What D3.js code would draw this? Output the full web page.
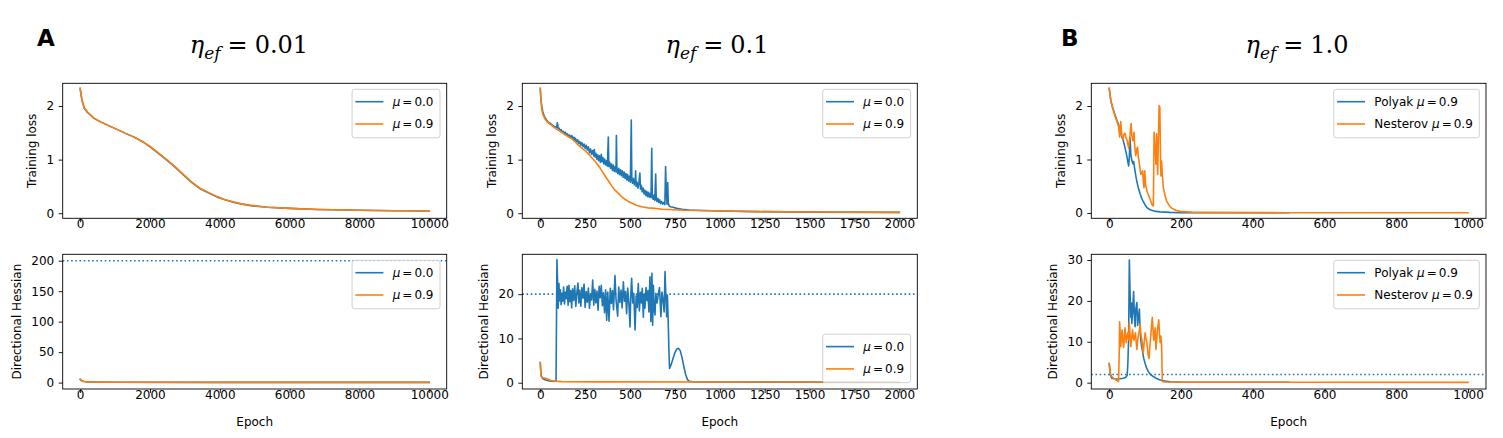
<!DOCTYPE html>
<html>
<head>
<meta charset="utf-8">
<script src="https://cdn.jsdelivr.net/npm/d3@7"></script>
<style>
  body { margin: 0; background: #fff; }
  svg { display: block; font-family: "DejaVu Sans", sans-serif; }
  text { fill: #000; }
</style>
</head>
<body>
<div id="chart"></div>
<script>
// ---------- data: [epoch, value] ----------

// panel A (eta = 0.01), training loss, both momenta almost on top of each other
const lossA_mu0 = [[0,2.33],[30,2.19],[67,2.07],[120,1.96],[210,1.88],[400,1.77],[600,1.70],[800,1.64],[1070,1.56],[1300,1.49],[1550,1.42],[1800,1.33],[2020,1.23],[2250,1.11],[2500,0.98],[2750,0.84],[2980,0.70],[3200,0.57],[3450,0.45],[3700,0.37],[3930,0.30],[4150,0.25],[4410,0.20],[4650,0.17],[4890,0.14],[5360,0.11],[6000,0.09],[6800,0.07],[8000,0.055],[9000,0.045],[10000,0.04]];
const lossA_mu9 = [[0,2.33],[30,2.20],[67,2.08],[120,1.97],[210,1.89],[400,1.77],[600,1.70],[800,1.64],[1070,1.56],[1300,1.49],[1550,1.42],[1800,1.33],[2020,1.24],[2250,1.12],[2500,0.99],[2750,0.85],[2980,0.71],[3200,0.58],[3450,0.46],[3700,0.38],[3930,0.31],[4150,0.25],[4410,0.21],[4650,0.17],[4890,0.15],[5360,0.11],[6000,0.09],[6800,0.07],[8000,0.055],[9000,0.045],[10000,0.04]];
const hessA_mu0 = [[0,5.3],[30,3.6],[67,2.6],[120,1.7],[200,1.2],[300,0.9],[500,0.7],[1000,0.5],[4000,0.4],[10000,0.3]];
const hessA_mu9 = [[0,5.5],[30,3.8],[67,2.7],[120,1.8],[200,1.2],[300,0.9],[500,0.7],[1000,0.5],[4000,0.4],[10000,0.3]];

// eta = 0.1, training loss
const lossB_mu0 = [[0,2.33],[4,2.12],[8,2.01],[14,1.90],[20,1.83],[26,1.79],[35,1.74],[45,1.70],[55,1.68],[63,1.66],[70,1.64],[78,1.62],[85,1.61],[91,1.60],[95,1.69],[97,1.66],[99,1.58],[104,1.59],[110,1.55],[116,1.56],[122,1.52],[128,1.53],[134,1.49],[140,1.51],[146,1.46],[152,1.48],[158,1.43],[164,1.46],[170,1.41],[176,1.45],[182,1.38],[188,1.42],[192,1.36],[196,1.40],[202,1.33],[208,1.37],[214,1.30],[220,1.34],[226,1.27],[232,1.32],[238,1.24],[244,1.29],[250,1.21],[256,1.27],[262,1.18],[268,1.24],[274,1.13],[280,1.20],[286,1.10],[292,1.17],[298,1.07],[301,1.19],[305,1.05],[310,1.12],[315,1.01],[320,1.09],[325,0.98],[330,1.07],[335,0.95],[340,1.10],[344,0.96],[349,1.04],[354,0.92],[359,1.01],[364,0.90],[369,0.98],[374,0.88],[379,1.42],[382,0.87],[387,0.95],[392,0.84],[397,0.92],[402,0.80],[407,0.90],[412,0.78],[418,0.87],[422,0.77],[424,1.45],[427,0.80],[432,0.74],[437,0.84],[442,0.72],[447,0.81],[452,0.70],[457,0.79],[462,0.67],[467,0.77],[472,0.65],[477,0.74],[482,0.62],[487,0.72],[492,0.60],[497,0.69],[502,0.58],[507,1.74],[510,0.62],[514,0.56],[519,0.65],[524,0.53],[529,0.60],[531,0.79],[534,0.50],[539,0.58],[544,0.47],[549,0.55],[555,0.75],[558,0.45],[563,0.52],[568,0.40],[573,0.47],[578,0.36],[583,0.43],[588,0.33],[593,0.41],[598,0.31],[603,0.39],[608,0.30],[613,0.37],[617,0.29],[621,1.21],[624,0.33],[629,0.26],[634,0.34],[638,0.24],[643,0.73],[646,0.27],[650,0.22],[655,0.28],[660,0.20],[665,0.25],[670,0.18],[676,0.22],[682,0.17],[688,0.20],[694,0.16],[698,0.87],[702,0.40],[706,0.17],[710,0.57],[713,0.20],[717,0.14],[725,0.12],[740,0.11],[760,0.09],[790,0.075],[830,0.06],[900,0.05],[1000,0.04],[1200,0.03],[1500,0.02],[2000,0.015]];
const lossB_mu9 = [[0,2.33],[4,2.10],[8,1.95],[15,1.84],[26,1.76],[40,1.70],[63,1.64],[90,1.57],[119,1.51],[150,1.44],[175,1.39],[195,1.33],[212,1.27],[230,1.22],[249,1.17],[268,1.11],[286,1.04],[305,0.97],[323,0.89],[342,0.80],[360,0.70],[380,0.60],[398,0.51],[416,0.43],[435,0.37],[453,0.31],[472,0.26],[490,0.22],[509,0.19],[535,0.15],[565,0.12],[600,0.10],[639,0.09],[680,0.075],[713,0.07],[800,0.055],[973,0.045],[1200,0.03],[1500,0.022],[2000,0.015]];

// eta = 0.1, directional hessian
const hessB_mu0 = [[0,4.5],[5,1.5],[15,0.9],[30,0.6],[50,0.4],[80,0.3],[88,0.5],[93,27.8],[97,22.0],[100,16.8],[104,22.4],[108,18.5],[112,21.0],[116,17.6],[120,20.2],[125,18.4],[130,21.6],[135,17.8],[140,20.5],[145,19.0],[150,21.8],[155,17.5],[160,22.0],[165,18.3],[170,20.8],[175,16.9],[180,21.2],[186,18.6],[192,21.9],[198,17.2],[204,20.4],[210,22.5],[215,18.0],[220,20.9],[226,17.3],[232,21.5],[238,19.1],[244,22.3],[250,17.0],[256,20.6],[262,18.2],[268,21.4],[274,16.8],[280,20.0],[286,18.7],[292,23.2],[298,17.5],[304,21.1],[310,18.0],[316,20.7],[322,16.4],[328,21.8],[334,19.2],[340,22.0],[346,17.4],[352,20.3],[358,15.8],[364,21.0],[370,14.1],[376,20.5],[383,13.9],[390,21.3],[396,17.9],[402,20.8],[408,16.5],[416,24.2],[422,18.8],[431,15.0],[437,21.6],[443,18.1],[450,20.9],[456,16.9],[463,22.8],[469,18.4],[475,20.6],[481,15.6],[487,21.4],[494,17.7],[500,12.6],[504,19.5],[509,23.6],[515,18.0],[521,20.2],[528,11.9],[534,19.6],[540,17.0],[546,22.4],[552,16.2],[558,20.4],[563,18.0],[568,21.3],[574,14.8],[578,20.0],[583,16.8],[589,21.5],[595,18.5],[600,20.8],[605,16.0],[611,23.9],[616,13.8],[622,24.7],[626,13.0],[630,22.0],[635,16.5],[639,15.3],[644,20.2],[650,18.0],[657,19.8],[664,21.5],[672,14.9],[678,20.5],[685,18.3],[690,16.0],[695,25.1],[700,19.0],[704,14.9],[708,19.8],[712,15.0],[716,8.0],[720,3.2],[730,4.2],[740,5.5],[750,6.8],[760,7.6],[770,7.75],[780,7.2],[790,5.6],[800,3.6],[810,1.8],[820,0.7],[830,0.3],[850,0.2],[1000,0.15],[2000,0.1]];
const hessB_mu9 = [[0,4.6],[4,1.7],[10,1.2],[17,1.1],[30,1.0],[45,0.8],[60,0.5],[82,0.35],[120,0.25],[300,0.2],[2000,0.1]];

// eta = 1.0, training loss (Polyak run stops at 500 epochs)
const lossC_pol = [[0,2.33],[4,2.12],[8,2.00],[12,1.92],[17,1.82],[22,1.72],[26,1.65],[30,1.55],[35,1.42],[40,1.33],[44,1.22],[48,1.10],[52,0.95],[54,0.88],[56,1.05],[58,1.41],[60,1.10],[63,0.98],[66,0.92],[68,0.96],[72,0.78],[76,0.62],[81,0.47],[86,0.36],[90,0.28],[95,0.21],[100,0.15],[105,0.10],[114,0.06],[125,0.035],[142,0.02],[170,0.01],[200,0.005],[500,0.003]];
const lossC_nes = [[0,2.33],[4,2.12],[8,2.00],[13,1.88],[17,1.79],[22,1.70],[26,1.62],[29,1.42],[32,1.71],[35,1.45],[38,1.38],[41,1.47],[44,1.49],[47,1.40],[49,1.38],[52,1.28],[54,1.21],[57,1.40],[61,1.67],[63,1.45],[66,1.35],[69,1.51],[71,1.25],[74,1.07],[77,1.20],[79,1.23],[81,1.05],[83,0.97],[86,0.82],[88,0.72],[91,0.76],[93,0.79],[95,0.60],[97,0.47],[99,0.79],[101,0.55],[105,0.41],[110,0.32],[114,0.25],[119,0.16],[123,0.13],[125,1.51],[127,1.20],[128,1.29],[130,0.91],[132,1.48],[134,0.95],[135,0.72],[137,1.40],[139,2.01],[141,1.98],[143,1.00],[144,0.69],[146,0.97],[148,0.70],[151,0.47],[155,0.34],[160,0.22],[167,0.14],[174,0.09],[185,0.05],[197,0.03],[230,0.015],[262,0.01],[500,0.005],[1000,0.003]];

// eta = 1.0, directional hessian
const hessC_pol = [[0,4.7],[3,1.9],[7,1.1],[14,0.95],[21,0.9],[30,0.95],[40,1.06],[46,1.3],[50,1.8],[52,5.0],[54,10.8],[56,30.0],[58,22.0],[60,16.0],[62,19.5],[63,14.5],[65,17.0],[68,22.3],[70,16.5],[72,13.7],[74,18.0],[77,19.6],[79,14.0],[81,15.6],[84,18.0],[86,13.0],[88,10.5],[90,9.0],[93,7.6],[96,6.0],[100,4.7],[104,3.6],[109,2.7],[115,2.0],[123,1.5],[132,1.0],[142,0.65],[155,0.4],[169,0.24],[200,0.15],[500,0.1]];
const hessC_nes = [[0,4.6],[3,2.3],[7,1.5],[12,1.1],[18,0.7],[24,0.4],[26,0.25],[28,8.0],[29,14.9],[31,11.0],[32,8.8],[34,11.5],[36,12.9],[38,10.0],[40,8.6],[42,11.0],[44,13.4],[46,11.2],[47,9.8],[50,11.5],[52,12.2],[54,10.5],[56,14.7],[58,11.8],[60,8.8],[62,10.6],[65,12.9],[67,11.0],[69,10.4],[71,11.3],[73,12.2],[75,10.0],[77,8.1],[79,10.2],[81,11.4],[84,12.8],[86,14.3],[88,12.0],[91,10.4],[93,8.5],[95,7.2],[97,9.6],[100,12.2],[102,11.0],[105,9.8],[107,8.0],[109,6.4],[111,5.9],[113,8.5],[115,10.8],[117,12.9],[120,16.0],[122,13.0],[124,10.4],[126,11.8],[128,13.4],[130,8.1],[132,10.0],[134,12.6],[136,14.0],[138,15.4],[140,12.0],[142,9.8],[144,11.4],[146,9.0],[147,4.0],[148,0.3],[155,0.15],[200,0.1],[1000,0.08]];

// stability thresholds 2/eta (dotted lines)
const thresholds = [200, 20, 2];

// tick values
const xTicksA = [0, 2000, 4000, 6000, 8000, 10000];
const xTicksB = [0, 250, 500, 750, 1000, 1250, 1500, 1750, 2000];
const xTicksC = [0, 200, 400, 600, 800, 1000];
const yTicksLoss = [0, 1, 2];
const yTicksHessA = [0, 50, 100, 150, 200];
const yTicksHessB = [0, 10, 20];
const yTicksHessC = [0, 10, 20, 30];

const labelsMu = [["", "0.0"], ["", "0.9"]];
const labelsMethod = [["Polyak ", "0.9"], ["Nesterov ", "0.9"]];
const titles = ["0.01", "0.1", "1.0"];

// ---------- layout ----------
const W = 1503, H = 438;
const blue = "#1f77b4", orange = "#ff7f0e";
const cols = [
  {left: 62.7, width: 384, titleX: 249},
  {left: 522.3, width: 395, titleX: 717},
  {left: 1091.3, width: 394.7, titleX: 1297}
];
const rows = [{top: 83.3, height: 135}, {top: 254.3, height: 134.7}];

const panels = [
  {c:0, r:0, xd:[-500,10500], yd:[-0.095,2.425], xt:xTicksA, yt:yTicksLoss, yl:"Training loss", s:[lossA_mu0, lossA_mu9], lab:labelsMu, leg:"ur"},
  {c:0, r:1, xd:[-500,10500], yd:[-10.5,210.5], xt:xTicksA, yt:yTicksHessA, yl:"Directional Hessian", s:[hessA_mu0, hessA_mu9], lab:labelsMu, leg:"ur", th:thresholds[0], xl:"Epoch"},
  {c:1, r:0, xd:[-100,2100], yd:[-0.095,2.425], xt:xTicksB, yt:yTicksLoss, yl:"Training loss", s:[lossB_mu0, lossB_mu9], lab:labelsMu, leg:"ur"},
  {c:1, r:1, xd:[-100,2100], yd:[-1.42,29.0], xt:xTicksB, yt:yTicksHessB, yl:"Directional Hessian", s:[hessB_mu0, hessB_mu9], lab:labelsMu, leg:"lr", th:thresholds[1], xl:"Epoch"},
  {c:2, r:0, xd:[-50,1050], yd:[-0.1,2.425], xt:xTicksC, yt:yTicksLoss, yl:"Training loss", s:[lossC_pol, lossC_nes], lab:labelsMethod, leg:"ur"},
  {c:2, r:1, xd:[-50,1050], yd:[-1.55,31.4], xt:xTicksC, yt:yTicksHessC, yl:"Directional Hessian", s:[hessC_pol, hessC_nes], lab:labelsMethod, leg:"ur", th:thresholds[2], xl:"Epoch"}
];

const svg = d3.select("#chart").append("svg")
    .attr("width", W)
    .attr("height", H);

panels.forEach((p, i) => {
  const col = cols[p.c], row = rows[p.r];
  const x = d3.scaleLinear().domain(p.xd).range([0, col.width]);
  const y = d3.scaleLinear().domain(p.yd).range([row.height, 0]);
  const g = svg.append("g").attr("transform", `translate(${col.left},${row.top})`);

  g.append("clipPath").attr("id", "clip" + i)
    .append("rect").attr("width", col.width).attr("height", row.height);

  const plot = g.append("g").attr("clip-path", `url(#clip${i})`);

  // dotted 2/eta line
  if (p.th !== undefined) {
    plot.append("line")
      .attr("x1", 0).attr("x2", col.width)
      .attr("y1", y(p.th)).attr("y2", y(p.th))
      .attr("stroke", blue).attr("stroke-width", 1.6)
      .attr("stroke-dasharray", "1.6,2.6");
  }

  const line = d3.line().x(d => x(d[0])).y(d => y(d[1]));
  [blue, orange].forEach((color, k) => {
    plot.append("path")
      .datum(p.s[k])
      .attr("d", line)
      .attr("fill", "none")
      .attr("stroke", color)
      .attr("stroke-width", 1.6)
      .attr("stroke-linejoin", "round")
      .attr("stroke-linecap", "square");
  });

  // axes
  const xAxis = g.append("g").attr("transform", `translate(0,${row.height})`)
    .call(d3.axisBottom(x).tickValues(p.xt).tickSize(4).tickPadding(4).tickFormat(d3.format("d")));
  const yAxis = g.append("g")
    .call(d3.axisLeft(y).tickValues(p.yt).tickSize(4).tickPadding(4.5).tickFormat(d3.format("d")));
  [xAxis, yAxis].forEach(a => {
    a.select(".domain").remove();
    a.selectAll(".tick line").attr("stroke", "#000").attr("stroke-width", 0.9);
    a.selectAll(".tick text").attr("font-size", 12).attr("font-family", "DejaVu Sans").attr("fill", "#000");
  });
  xAxis.selectAll(".tick text").attr("dy", null).attr("y", 18.7 - 8.8);

  g.append("rect")
    .attr("width", col.width).attr("height", row.height)
    .attr("fill", "none").attr("stroke", "#000").attr("stroke-width", 0.9);

  // y label, placed left of the widest tick label
  let maxW = 0;
  yAxis.selectAll(".tick text").each(function () { maxW = Math.max(maxW, this.getComputedTextLength()); });
  const ylx = -maxW - 9 - 14;
  g.append("text")
    .attr("transform", `translate(${ylx},${row.height / 2}) rotate(-90)`)
    .attr("text-anchor", "middle").attr("dy", "0.35em")
    .attr("font-size", 12)
    .text(p.yl);

  if (p.xl) {
    g.append("text")
      .attr("x", col.width / 2).attr("y", row.height + 37)
      .attr("text-anchor", "middle").attr("font-size", 12)
      .text(p.xl);
  }

  // legend
  const leg = g.append("g");
  const box = leg.append("rect")
    .attr("fill", "#fff").attr("fill-opacity", 0.8)
    .attr("stroke", "#ccc").attr("stroke-width", 0.9)
    .attr("rx", 2.5).attr("ry", 2.5);
  let tw = 0;
  p.lab.forEach((lab, k) => {
    const cy = 12.4 + 22.3 * k;
    leg.append("line")
      .attr("x1", 3.3).attr("x2", 31.3).attr("y1", cy).attr("y2", cy)
      .attr("stroke", k ? orange : blue).attr("stroke-width", 1.6);
    const t = leg.append("text")
      .attr("x", 40.6).attr("y", cy + 4.3)
      .attr("font-size", 12)
      .attr("xml:space", "preserve");
    if (lab[0]) t.append("tspan").text(lab[0]);
    t.append("tspan").attr("font-style", "italic").text("μ");
    t.append("tspan").attr("dx", 2).text("=");
    t.append("tspan").attr("dx", 2).text(lab[1]);
    tw = Math.max(tw, t.node().getComputedTextLength() + 4);
  });
  const bw = 40.6 + tw + 6.5, bh = 48.5;
  box.attr("width", bw).attr("height", bh);
  const lx = col.width - 6.7 - bw;
  const ly = p.leg === "ur" ? 6 : row.height - 6.3 - bh;
  leg.attr("transform", `translate(${lx},${ly})`);
});

// column titles
titles.forEach((t, i) => {
  const tt = svg.append("text")
    .attr("x", cols[i].titleX).attr("y", 53)
    .attr("text-anchor", "middle")
    .style("font-family", "'DejaVu Serif', serif")
    .style("font-size", "24px");
  tt.append("tspan").attr("font-style", "italic").text("η");
  tt.append("tspan").attr("font-style", "italic").style("font-size", "17px").attr("dy", 6).text("ef");
  tt.append("tspan").attr("dy", -6).attr("dx", 7).text("=");
  tt.append("tspan").attr("dx", 7).text(t);
});

// panel letters
[["A", 37], ["B", 1061]].forEach(([s, px]) => {
  svg.append("text")
    .attr("x", px).attr("y", 46)
    .attr("font-size", 23).attr("font-weight", "bold")
    .text(s);
});
</script>
</body>
</html>
